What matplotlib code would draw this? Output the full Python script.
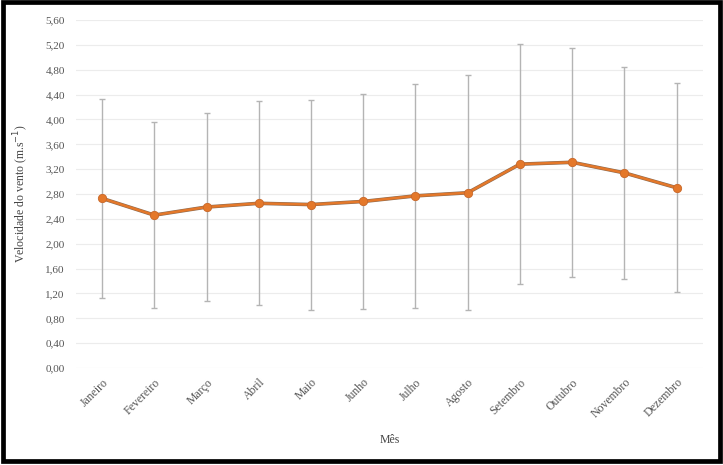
import matplotlib
matplotlib.use("Agg")
from matplotlib import pyplot as plt
from matplotlib.patches import Rectangle

meses = ["Janeiro", "Fevereiro", "Março", "Abril", "Maio", "Junho",
         "Julho", "Agosto", "Setembro", "Outubro", "Novembro", "Dezembro"]
media = [2.73, 2.46, 2.59, 2.65, 2.63, 2.68, 2.77, 2.82, 3.28, 3.31, 3.14, 2.90]
desvio = [1.60, 1.50, 1.51, 1.64, 1.69, 1.73, 1.80, 1.89, 1.93, 1.84, 1.71, 1.68]
y_ticks = [0.0, 0.4, 0.8, 1.2, 1.6, 2.0, 2.4, 2.8, 3.2, 3.6, 4.0, 4.4, 4.8, 5.2, 5.6]

plt.rcParams['font.family'] = ['Liberation Serif', 'DejaVu Serif']

fig = plt.figure(figsize=(7.23, 4.65), dpi=100)
ax = fig.add_axes([0.105, 0.2086, 0.867, 0.7484])

x = list(range(len(meses)))
ax.errorbar(x, media, yerr=desvio, fmt='none', ecolor='#b4b4b4', elinewidth=1,
            capsize=2.5, capthick=1, zorder=2)
ax.plot(x, media, c='#8c6a50', lw=2.6, zorder=3)
ax.plot(x, media, c='#e4782a', lw=1.8, marker='o', ms=6, mfc='#e4782a',
        mec='#c8682a', mew=0.6, zorder=4)

ax.set_xlim(-0.5, len(meses) - 0.5)
ax.set_ylim(0, 5.6)
ax.set_yticks(y_ticks)
ax.set_yticklabels(["{:.2f}".format(v).replace('.', ',') for v in y_ticks])
ax.set_xticks(x)
ax.set_xticklabels(meses, rotation=45, ha='right', rotation_mode='anchor')
ax.tick_params(length=0, labelsize=8, colors='#555555', pad=6)
ax.tick_params(axis='x', labelsize=8.5)
ax.tick_params(axis='y', pad=8)
ax.grid(axis='y', color='#ececec', lw=0.8)
ax.set_axisbelow(True)
for s in ax.spines.values():
    s.set_visible(False)

ax.set_ylabel('Velocidade do vento (m.s$^{-1}$)', fontsize=8.5, color='#444444', labelpad=10)
ax.set_xlabel('Mês', fontsize=8.5, color='#444444', labelpad=10)

# moldura preta
fig.patches.append(Rectangle((3 / 723, 4.5 / 465), 716.5 / 723, 458.5 / 465,
                             transform=fig.transFigure, fill=False,
                             ec='black', lw=3.4))

plt.savefig('out.png', dpi=100)
